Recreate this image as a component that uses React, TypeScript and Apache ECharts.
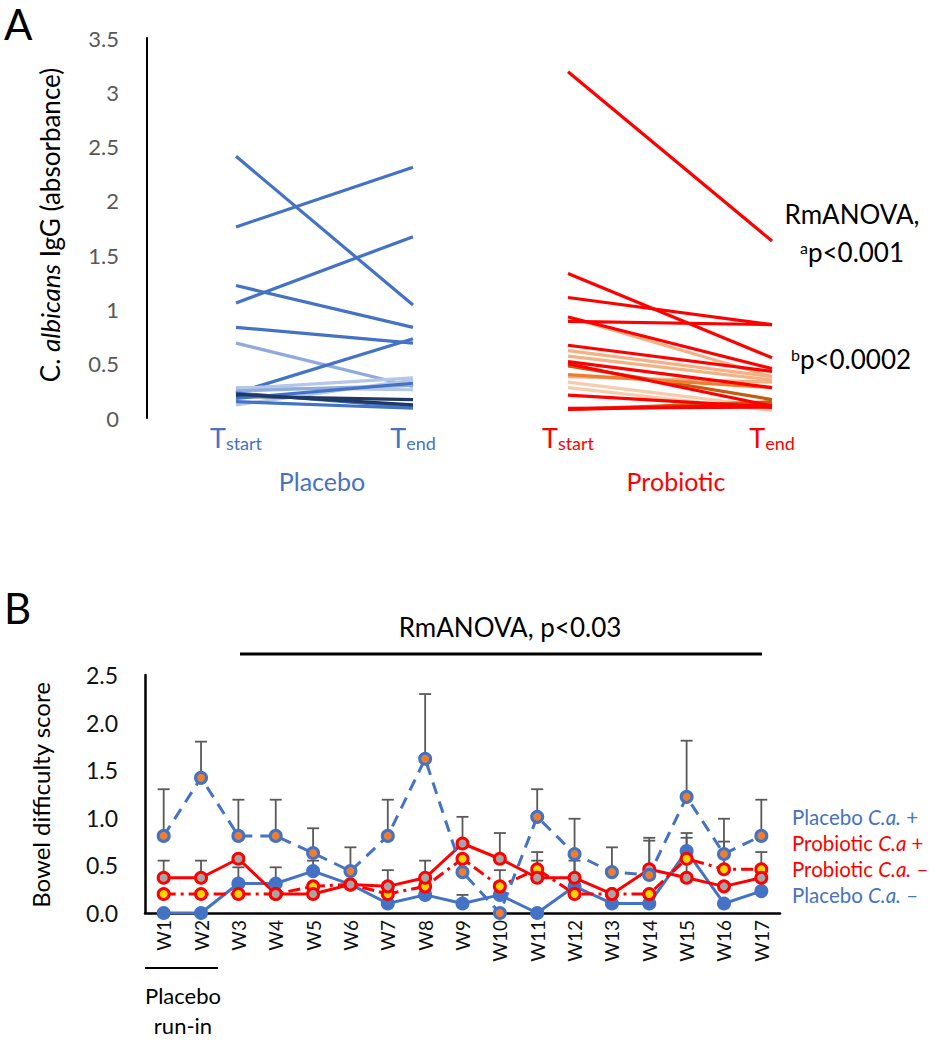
import React, { useEffect, useRef } from "react";
import * as echarts from "echarts";

// ---------- Panel A data ----------
const timeCats = ["start", "end"];
const placeboStart = [2.41, 1.76, 1.06, 1.22, 0.835, 0.69, 0.23, 0.27, 0.28, 0.12, 0.25, 0.2, 0.23, 0.15, 0.18, 0.22];
const placeboEnd = [1.04, 2.31, 1.67, 0.835, 0.69, 0.29, 0.73, 0.37, 0.26, 0.35, 0.3, 0.17, 0.1, 0.09, 0.32, 0.12];
const placeboShade = ["mid", "mid", "mid", "mid", "mid", "light", "mid", "pale", "pale", "pale", "light", "navy", "mid", "mid", "mid", "navy"];

const probioticStart = [3.19, 1.33, 1.11, 0.89, 0.93, 0.67, 0.52, 0.5, 0.21, 0.08, 0.09, 0.93, 0.62, 0.57, 0.38, 0.33, 0.28, 0.48, 0.08, 0.4];
const probioticEnd = [1.63, 0.555, 0.86, 0.86, 0.455, 0.43, 0.28, 0.11, 0.1, 0.12, 0.1, 0.38, 0.38, 0.35, 0.33, 0.1, 0.07, 0.17, 0.15, 0.28];
const probioticShade = ["red", "red", "red", "red", "red", "red", "red", "red", "red", "red", "red", "salmon", "salmon", "salmon", "salmon", "pale", "pale", "brown", "brown", "orange"];

const yTicksA = [0, 0.5, 1, 1.5, 2, 2.5, 3, 3.5];

// ---------- Panel B data ----------
const weeks = ["W1", "W2", "W3", "W4", "W5", "W6", "W7", "W8", "W9", "W10", "W11", "W12", "W13", "W14", "W15", "W16", "W17"];
const placeboPos = [0.81, 1.42, 0.81, 0.81, 0.63, 0.44, 0.81, 1.62, 0.43, 0.0, 1.01, 0.62, 0.43, 0.4, 1.22, 0.62, 0.81];
const probioticPos = [0.37, 0.37, 0.57, 0.2, 0.2, 0.3, 0.28, 0.37, 0.73, 0.57, 0.37, 0.37, 0.2, 0.46, 0.37, 0.28, 0.37];
const probioticNeg = [0.2, 0.2, 0.2, 0.2, 0.28, 0.3, 0.2, 0.28, 0.57, 0.28, 0.46, 0.2, 0.2, 0.2, 0.57, 0.46, 0.46];
const placeboNeg = [0.0, 0.0, 0.31, 0.31, 0.44, 0.3, 0.1, 0.19, 0.1, 0.19, 0.0, 0.28, 0.1, 0.1, 0.65, 0.1, 0.23];

const placeboPosUpper = [1.3, 1.8, 1.19, 1.19, 0.89, 0.69, 1.19, 2.3, null, null, 1.3, 0.99, 0.69, 0.79, 1.81, 0.99, 1.19];
const probioticPosUpper = [0.55, 0.55, null, null, null, null, null, 0.55, 1.01, 0.84, 0.55, 0.55, null, 0.76, 0.84, null, null];
const probioticNegUpper = [null, null, null, null, null, null, null, null, null, 0.45, 0.64, 0.6, null, null, 0.79, 0.75, 0.64];
const placeboNegUpper = [null, null, 0.48, 0.48, 0.55, null, 0.45, null, 0.19, null, null, null, null, null, null, null, null];

const FONT = "Lato";
const BLUE = "#4472c4";
const RED = "#ff0000";

const shadeColor: Record<string, string> = {
  mid: "#4472c4",
  light: "#8faadc",
  pale: "#b4c7e7",
  navy: "#203864",
  red: "#ff0000",
  salmon: "#f4b183",
  brown: "#c55a11",
  orange: "#ed7d31",
};
const paleRed = "#f8cbad";

function errorSeries(vals: number[], ups: (number | null)[]) {
  return {
    type: "custom",
    xAxisIndex: 2,
    yAxisIndex: 2,
    silent: true,
    z: 1,
    encode: { x: 0, y: [1, 2] },
    data: ups
      .map((u, i) => (u == null ? null : [i, vals[i], u]))
      .filter((d) => d != null),
    renderItem: (params: any, api: any) => {
      const i = api.value(0);
      const p0 = api.coord([i, api.value(1)]);
      const p1 = api.coord([i, api.value(2)]);
      return {
        type: "group",
        children: [
          { type: "line", shape: { x1: p0[0], y1: p0[1], x2: p1[0], y2: p1[1] }, style: { stroke: "#595959", lineWidth: 1.8 } },
          { type: "line", shape: { x1: p1[0] - 6, y1: p1[1], x2: p1[0] + 6, y2: p1[1] }, style: { stroke: "#595959", lineWidth: 1.8 } },
        ],
      };
    },
  };
}

function weekSeries(name: string, vals: number[], color: string, center: string, type: any) {
  return {
    name,
    type: "line",
    xAxisIndex: 2,
    yAxisIndex: 2,
    data: vals,
    z: 3,
    symbol: "circle",
    symbolSize: 11,
    lineStyle: { color, width: 3, type },
    itemStyle: { color: center, borderColor: color, borderWidth: 3 },
  };
}

export default function App() {
  const ref = useRef<HTMLDivElement>(null);
  useEffect(() => {
    document.body.style.margin = "0";
    const chart = echarts.init(ref.current!, null, { renderer: "svg" });

    const tLabel = (color: string) => ({
      formatter: (v: string) => `{t|T}{s|${v}}`,
      margin: 4,
      rich: {
        t: { fontSize: 27, color, fontFamily: FONT, lineHeight: 30 },
        s: { fontSize: 18, color, fontFamily: FONT, verticalAlign: "bottom", lineHeight: 14 },
      },
    });

    const seriesA: any[] = [];
    placeboStart.forEach((s, i) => {
      seriesA.push({
        type: "line",
        xAxisIndex: 0,
        yAxisIndex: 0,
        data: [s, placeboEnd[i]],
        symbol: "none",
        silent: true,
        lineStyle: { color: shadeColor[placeboShade[i]], width: 3.2 },
      });
    });
    probioticStart.forEach((s, i) => {
      const sh = probioticShade[i];
      seriesA.push({
        type: "line",
        xAxisIndex: 1,
        yAxisIndex: 1,
        data: [s, probioticEnd[i]],
        symbol: "none",
        silent: true,
        z: sh === "red" ? 3 : 2,
        lineStyle: { color: sh === "pale" ? paleRed : shadeColor[sh], width: 3.2 },
      });
    });

    const option: any = {
      animation: false,
      grid: [
        { left: 236, top: 38, width: 177, height: 380 },
        { left: 568, top: 38, width: 204, height: 380 },
        { left: 145, top: 675, width: 635, height: 238 },
      ],
      xAxis: [
        {
          gridIndex: 0, type: "category", data: timeCats, boundaryGap: false,
          axisLine: { show: false }, axisTick: { show: false }, splitLine: { show: false },
          axisLabel: tLabel(BLUE),
        },
        {
          gridIndex: 1, type: "category", data: timeCats, boundaryGap: false,
          axisLine: { show: false }, axisTick: { show: false }, splitLine: { show: false },
          axisLabel: tLabel(RED),
        },
        {
          gridIndex: 2, type: "category", data: weeks, boundaryGap: true,
          axisLine: { show: true, lineStyle: { color: "#000", width: 2.5 } },
          axisTick: { show: false },
          axisLabel: { rotate: 90, fontSize: 19, color: "#111", fontFamily: FONT, margin: 7 },
        },
      ],
      yAxis: [
        {
          gridIndex: 0, type: "value", min: yTicksA[0], max: yTicksA[yTicksA.length - 1], interval: 0.5,
          offset: 89,
          axisLine: { show: true, lineStyle: { color: "#000", width: 2 } },
          axisTick: { show: false }, splitLine: { show: false },
          axisLabel: { fontSize: 22, color: "#595959", fontFamily: FONT, margin: 28 },
        },
        {
          gridIndex: 1, type: "value", min: 0, max: 3.5, interval: 0.5, show: false,
          splitLine: { show: false },
        },
        {
          gridIndex: 2, type: "value", min: 0, max: 2.5, interval: 0.5,
          axisLine: { show: true, lineStyle: { color: "#000", width: 2.5 } },
          axisTick: { show: false }, splitLine: { show: false },
          axisLabel: { fontSize: 23, color: "#111", fontFamily: FONT, margin: 27, formatter: (v: number) => v.toFixed(1) },
        },
      ],
      series: [
        ...seriesA,
        errorSeries(placeboPos, placeboPosUpper),
        errorSeries(probioticPos, probioticPosUpper),
        errorSeries(probioticNeg, probioticNegUpper),
        errorSeries(placeboNeg, placeboNegUpper),
        weekSeries("Placebo C.a. −", placeboNeg, BLUE, BLUE, "solid"),
        weekSeries("Probiotic C.a. −", probioticNeg, RED, "#ffd700", [12, 5, 3, 5]),
        weekSeries("Probiotic C.a +", probioticPos, RED, "#a6a6a6", "solid"),
        weekSeries("Placebo C.a. +", placeboPos, BLUE, "#ed7d31", [12, 8]),
      ],
      graphic: [
        { type: "text", x: 4, y: 24, style: { text: "A", fontSize: 42, fontFamily: FONT, fill: "#000", verticalAlign: "middle" } },
        { type: "text", x: 4, y: 608, style: { text: "B", fontSize: 42, fontFamily: FONT, fill: "#000", verticalAlign: "middle" } },
        {
          type: "text", x: 50, y: 225, rotation: Math.PI / 2,
          style: {
            text: "C. {i|albicans} IgG (absorbance)", align: "center", verticalAlign: "middle",
            fontSize: 26, fontFamily: FONT, fill: "#000",
            rich: { i: { fontStyle: "italic", fontSize: 26, fontFamily: FONT, fill: "#000" } },
          },
        },
        { type: "text", x: 322, y: 481, style: { text: "Placebo", align: "center", verticalAlign: "middle", fontSize: 25, fontFamily: FONT, fill: BLUE } },
        { type: "text", x: 676, y: 481, style: { text: "Probiotic", align: "center", verticalAlign: "middle", fontSize: 25, fontFamily: FONT, fill: RED } },
        { type: "text", x: 852, y: 214, style: { text: "RmANOVA,", align: "center", verticalAlign: "middle", fontSize: 26, fontFamily: FONT, fill: "#000" } },
        {
          type: "text", x: 852, y: 252,
          style: {
            text: "{sup|a}p<0.001", align: "center", verticalAlign: "middle", fontSize: 26, fontFamily: FONT, fill: "#000",
            rich: { sup: { fontSize: 16, fontFamily: FONT, fill: "#000", verticalAlign: "top", lineHeight: 14 } },
          },
        },
        {
          type: "text", x: 851, y: 359,
          style: {
            text: "{sup|b}p<0.0002", align: "center", verticalAlign: "middle", fontSize: 26, fontFamily: FONT, fill: "#000",
            rich: { sup: { fontSize: 16, fontFamily: FONT, fill: "#000", verticalAlign: "top", lineHeight: 14 } },
          },
        },
        { type: "text", x: 510, y: 627, style: { text: "RmANOVA, p<0.03", align: "center", verticalAlign: "middle", fontSize: 26, fontFamily: FONT, fill: "#000" } },
        { type: "line", shape: { x1: 240, y1: 654, x2: 762, y2: 654 }, style: { stroke: "#000", lineWidth: 3 } },
        {
          type: "text", x: 40, y: 795, rotation: Math.PI / 2,
          style: { text: "Bowel difficulty score", align: "center", verticalAlign: "middle", fontSize: 24, fontFamily: FONT, fill: "#000" },
        },
        { type: "line", shape: { x1: 145, y1: 968, x2: 218, y2: 968 }, style: { stroke: "#000", lineWidth: 2 } },
        { type: "text", x: 183, y: 995, style: { text: "Placebo", align: "center", verticalAlign: "middle", fontSize: 22, fontFamily: FONT, fill: "#000" } },
        { type: "text", x: 183, y: 1025, style: { text: "run-in", align: "center", verticalAlign: "middle", fontSize: 22, fontFamily: FONT, fill: "#000" } },
        ...[
          { t: "Placebo {i|C.a.} +", c: BLUE, y: 817 },
          { t: "Probiotic {i|C.a} +", c: RED, y: 843 },
          { t: "Probiotic {i|C.a.} \u2013", c: RED, y: 869 },
          { t: "Placebo {i|C.a.} \u2013", c: BLUE, y: 895 },
        ].map((d) => ({
          type: "text", x: 792, y: d.y,
          style: {
            text: d.t, align: "left", verticalAlign: "middle", fontSize: 20.5, fontFamily: FONT, fill: d.c,
            rich: { i: { fontStyle: "italic", fontSize: 20.5, fontFamily: FONT, fill: d.c } },
          },
        })),
      ],
    };
    chart.setOption(option);
    return () => chart.dispose();
  }, []);
  return <div ref={ref} style={{ width: 929, height: 1050 }} />;
}
